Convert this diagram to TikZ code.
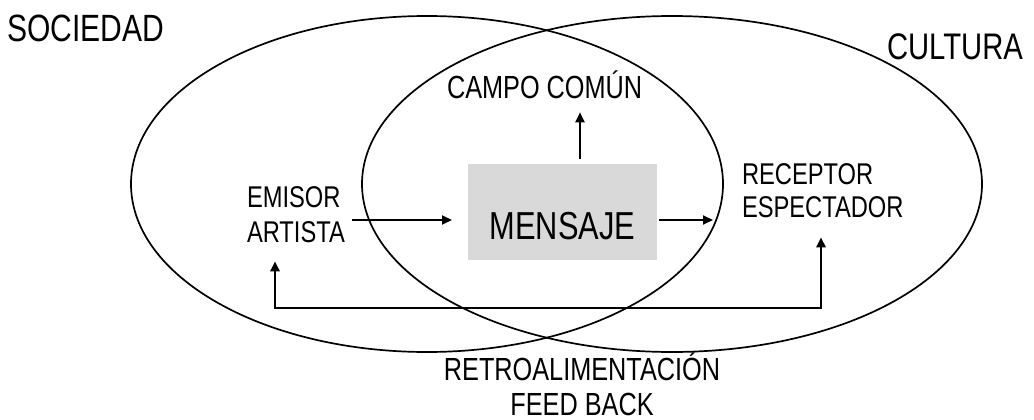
\documentclass[tikz,border=0pt]{standalone}
\usepackage{fontspec}
\setmainfont{Liberation Sans}[FakeStretch=0.79]
\usetikzlibrary{arrows.meta}
\definecolor{boxgray}{HTML}{D9D9D9}
\tikzset{
  ring/.style={draw=black, line width=1.7pt},
  lbl/.style={inner sep=0pt, outer sep=0pt, text=black},
  arr/.style={line width=2pt, -{Triangle[length=10pt,width=9pt]}},
  fb/.style={line width=2.5pt, {Triangle[length=10pt,width=9pt]}-{Triangle[length=10pt,width=9pt]}},
}
\newcommand{\fs}[2]{\fontsize{#1}{#2}\selectfont}
\begin{document}
\begin{tikzpicture}[x=1pt,y=-1pt]
\useasboundingbox (0,0) rectangle (1034,420);
% sets
\draw[ring] (427,184) ellipse [x radius=296pt, y radius=168pt];
\draw[ring] (672,184) ellipse [x radius=310pt, y radius=168pt];
% labels
\node[lbl, anchor=base west, font=\fs{38}{44}] (sociedad) at (7,42) {SOCIEDAD};
\node[lbl, anchor=base west, font=\fs{37}{44}] (cultura) at (887,60) {CULTURA};
\node[lbl, anchor=base west, font=\fs{32}{38}] (campo) at (447,99) {CAMPO COMÚN};
\node[lbl, anchor=base west, align=left, font=\fs{30}{35}] (emisor) at (247,242) {EMISOR\\ARTISTA};
\node[lbl, anchor=base west, align=left, font=\fs{30}{33}] (receptor) at (742,217) {RECEPTOR\\ESPECTADOR};
\node[lbl, anchor=base, align=center, font=\fs{32}{35}] (retro) at (582,415) {RETROALIMENTACIÓN\\FEED BACK};
\node[lbl, fill=boxgray, anchor=base, minimum width=189pt, text height=75pt, text depth=21pt, font=\fs{39}{44}] (mensaje) at (562.5,239) {MENSAJE};
% connectors
\coordinate (ya) at (0,220);
\coordinate (xa) at (580,0);
\coordinate (fbL) at (275,308);
\coordinate (fbR) at (821,308);
\draw[arr, shorten <=7pt, shorten >=16pt] (emisor.east |- ya) -- (mensaje.west |- ya);
\draw[arr, shorten <=2pt, shorten >=29pt] (mensaje.east |- ya) -- (receptor.west |- ya);
\draw[arr, shorten <=5pt, shorten >=13pt] (mensaje.north -| xa) -- (campo.south -| xa);
\draw[fb] ([yshift=-19pt]emisor.south -| fbL) -- (fbL) -- (fbR) -- ([yshift=-20pt]receptor.south -| fbR);
\end{tikzpicture}
\end{document}
